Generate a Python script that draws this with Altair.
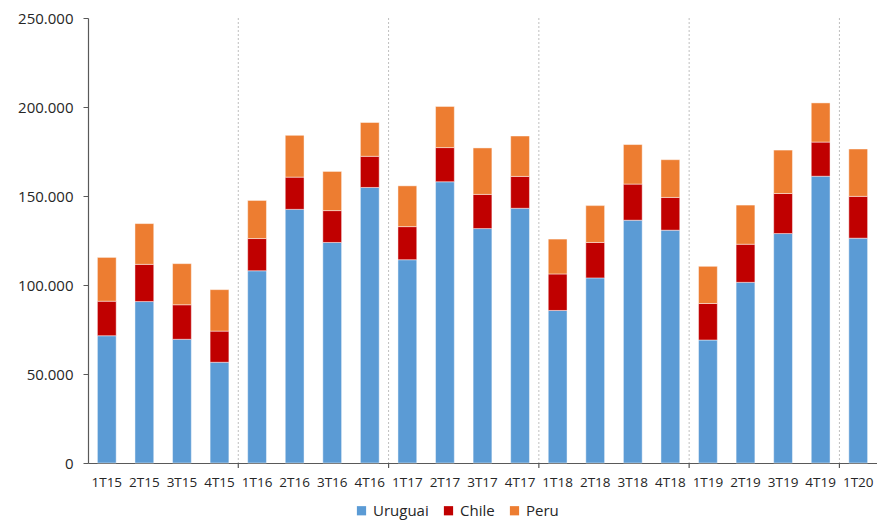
import altair as alt
import pandas as pd

quarters = ["1T15", "2T15", "3T15", "4T15", "1T16", "2T16", "3T16", "4T16",
            "1T17", "2T17", "3T17", "4T17", "1T18", "2T18", "3T18", "4T18",
            "1T19", "2T19", "3T19", "4T19", "1T20"]
uruguai = [71500, 90700, 69500, 56600, 108000, 142500, 123900, 154800,
           114200, 158000, 131700, 143100, 85700, 104000, 136400, 130800,
           69100, 101500, 128900, 161100, 126300]
chile = [19400, 20900, 19400, 17500, 18100, 18100, 17900, 17500,
         18600, 19200, 19200, 17900, 20500, 19900, 20300, 18400,
         20500, 21400, 22500, 19200, 23500]
peru = [24600, 22900, 23100, 23300, 21400, 23500, 22000, 19000,
        22900, 23100, 26100, 22700, 19600, 20700, 22200, 21200,
        20900, 22000, 24400, 22000, 26600]
series = ["Uruguai", "Chile", "Peru"]
colors = ["#5B9BD5", "#C00000", "#ED7D31"]
year_starts = ["1T16", "1T17", "1T18", "1T19", "1T20"]
y_ticks = [0, 50000, 100000, 150000, 200000, 250000]

rows = []
for i, q in enumerate(quarters):
    for k, (name, vals) in enumerate(zip(series, [uruguai, chile, peru])):
        rows.append({"q": q, "serie": name, "v": vals[i], "ord": k})
df = pd.DataFrame(rows)
sep = pd.DataFrame({"q": year_starts})

W, H = 789, 445
step = W / len(quarters)
font = "Open Sans"
txt = "#262626"

xscale = alt.Scale(domain=quarters, paddingInner=0.5, paddingOuter=0.25)
xaxis = alt.Axis(labelAngle=0, ticks=False, labelPadding=12, labelFontSize=13.5,
                 labelFont=font, labelColor=txt, domainColor="#595959",
                 domainWidth=1.2)


def xenc(**kw):
    return alt.X("q:N", scale=xscale, sort=quarters, title=None, axis=xaxis, **kw)


bars = alt.Chart(df).mark_bar(stroke="white", strokeWidth=1, strokeOpacity=0.45).encode(
    x=xenc(),
    y=alt.Y("v:Q", stack="zero", title=None,
            scale=alt.Scale(domain=[0, 250000], nice=False),
            axis=alt.Axis(values=y_ticks, grid=False, tickSize=5, labelPadding=10,
                          labelFontSize=15, labelFont=font, labelColor=txt,
                          tickColor="#595959", domainColor="#595959", domainWidth=1.2,
                          labelExpr="replace(format(datum.value, ','), ',', '.')")),
    color=alt.Color("serie:N", scale=alt.Scale(domain=series, range=colors),
                    legend=alt.Legend(title=None, orient="none", direction="horizontal",
                                      legendX=266, legendY=485, padding=0,
                                      symbolType="square", symbolSize=85,
                                      symbolStrokeWidth=0, labelFontSize=15,
                                      labelFont=font, labelColor=txt,
                                      columnPadding=12, labelOffset=4)),
    order=alt.Order("ord:Q"),
)

dots = alt.Chart(sep).mark_rule(color="#BFBFBF", strokeDash=[2, 2], strokeWidth=1,
                                xOffset=-step / 4).encode(
    x=xenc(bandPosition=0),
    y=alt.value(0), y2=alt.value(H),
)

ticks = alt.Chart(sep).mark_rule(color="#595959", strokeWidth=1.2,
                                 xOffset=-step / 4).encode(
    x=xenc(bandPosition=0),
    y=alt.value(H), y2=alt.value(H + 5),
)

chart = alt.layer(dots, bars, ticks).properties(
    width=W, height=H,
    autosize=alt.AutoSizeParams(type="none"),
    padding={"left": 80, "top": 10, "right": 0, "bottom": 57},
).configure_view(stroke=None)

chart.save("out.html", embed_options={"renderer": "svg", "actions": False})
